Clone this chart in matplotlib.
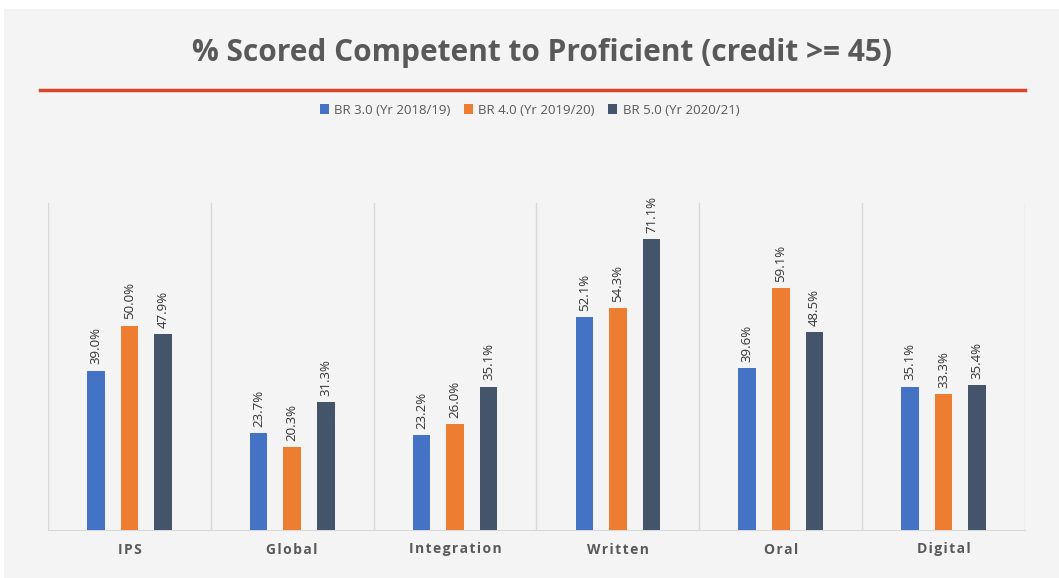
import numpy as np
import matplotlib.pyplot as plt
from matplotlib.patches import Rectangle

# data
categories = ["IPS", "Global", "Integration", "Written", "Oral", "Digital"]
series_names = ["BR 3.0 (Yr 2018/19)", "BR 4.0 (Yr 2019/20)", "BR 5.0 (Yr 2020/21)"]
br3 = [39.0, 23.7, 23.2, 52.1, 39.6, 35.1]
br4 = [50.0, 20.3, 26.0, 54.3, 59.1, 33.3]
br5 = [47.9, 31.3, 35.1, 71.1, 48.5, 35.4]
colors = ["#4472c4", "#ed7d31", "#44546a"]

plt.rcParams['font.family'] = ['Open Sans', 'DejaVu Sans']

fig = plt.figure(figsize=(10.59, 5.78), dpi=100)
fig.patch.set_facecolor("white")
# grey panel
fig.patches.append(Rectangle((4 / 1059, 0), 1 - 4 / 1059, 1 - 9 / 578,
                             transform=fig.transFigure, facecolor="#f4f4f4",
                             edgecolor="none", zorder=-1))

ax = fig.add_axes([48 / 1059, 1 - 530 / 578, (1025 - 48) / 1059, (530 - 203) / 578])
ax.set_facecolor("none")

x = np.arange(len(categories))
w = 0.108
gap = 0.206
for i, (vals, c, name) in enumerate(zip([br3, br4, br5], colors, series_names)):
    pos = x + (i - 1) * gap
    bars = ax.bar(pos, vals, width=w, color=c, label=name, zorder=3)
    for xp, v in zip(pos, vals):
        ax.text(xp, v + 1.5, f"{v:.1f}%", rotation=90, ha="center", va="bottom",
                fontsize=9.5, color="#333333")

ax.set_xlim(-0.5, len(categories) - 0.5)
ax.set_ylim(0, 80)
ax.set_yticks([])
ax.set_xticks(x)
ax.set_xticklabels(["\u200a".join(c) for c in categories], fontsize=10,
                   fontweight="bold", color="#595959")
ax.tick_params(axis="x", length=0, pad=9)
for b in np.arange(-0.5, len(categories), 1.0):
    ax.axvline(b, color="#d9d9d9", lw=1, zorder=1)
for s in ["top", "left", "right"]:
    ax.spines[s].set_visible(False)
ax.spines["bottom"].set_color("#d9d9d9")

fig.text(542 / 1059, 1 - 53 / 578, "% Scored Competent to Proficient (credit >= 45)",
         ha="center", va="center", fontsize=21.5, fontweight="bold", color="#595959")
fig.add_artist(plt.Line2D([40 / 1059, 1025 / 1059], [1 - 90 / 578, 1 - 90 / 578],
                          color="#d9472b", lw=2.5, transform=fig.transFigure))

fig.legend(loc="center", bbox_to_anchor=(0.5, 1 - 110 / 578), ncol=3, frameon=False,
           fontsize=9.5, handlelength=0.7, handleheight=0.7, handletextpad=0.4,
           columnspacing=1.0, labelcolor="#595959")

fig.savefig("out.png", dpi=100, facecolor=fig.get_facecolor())
